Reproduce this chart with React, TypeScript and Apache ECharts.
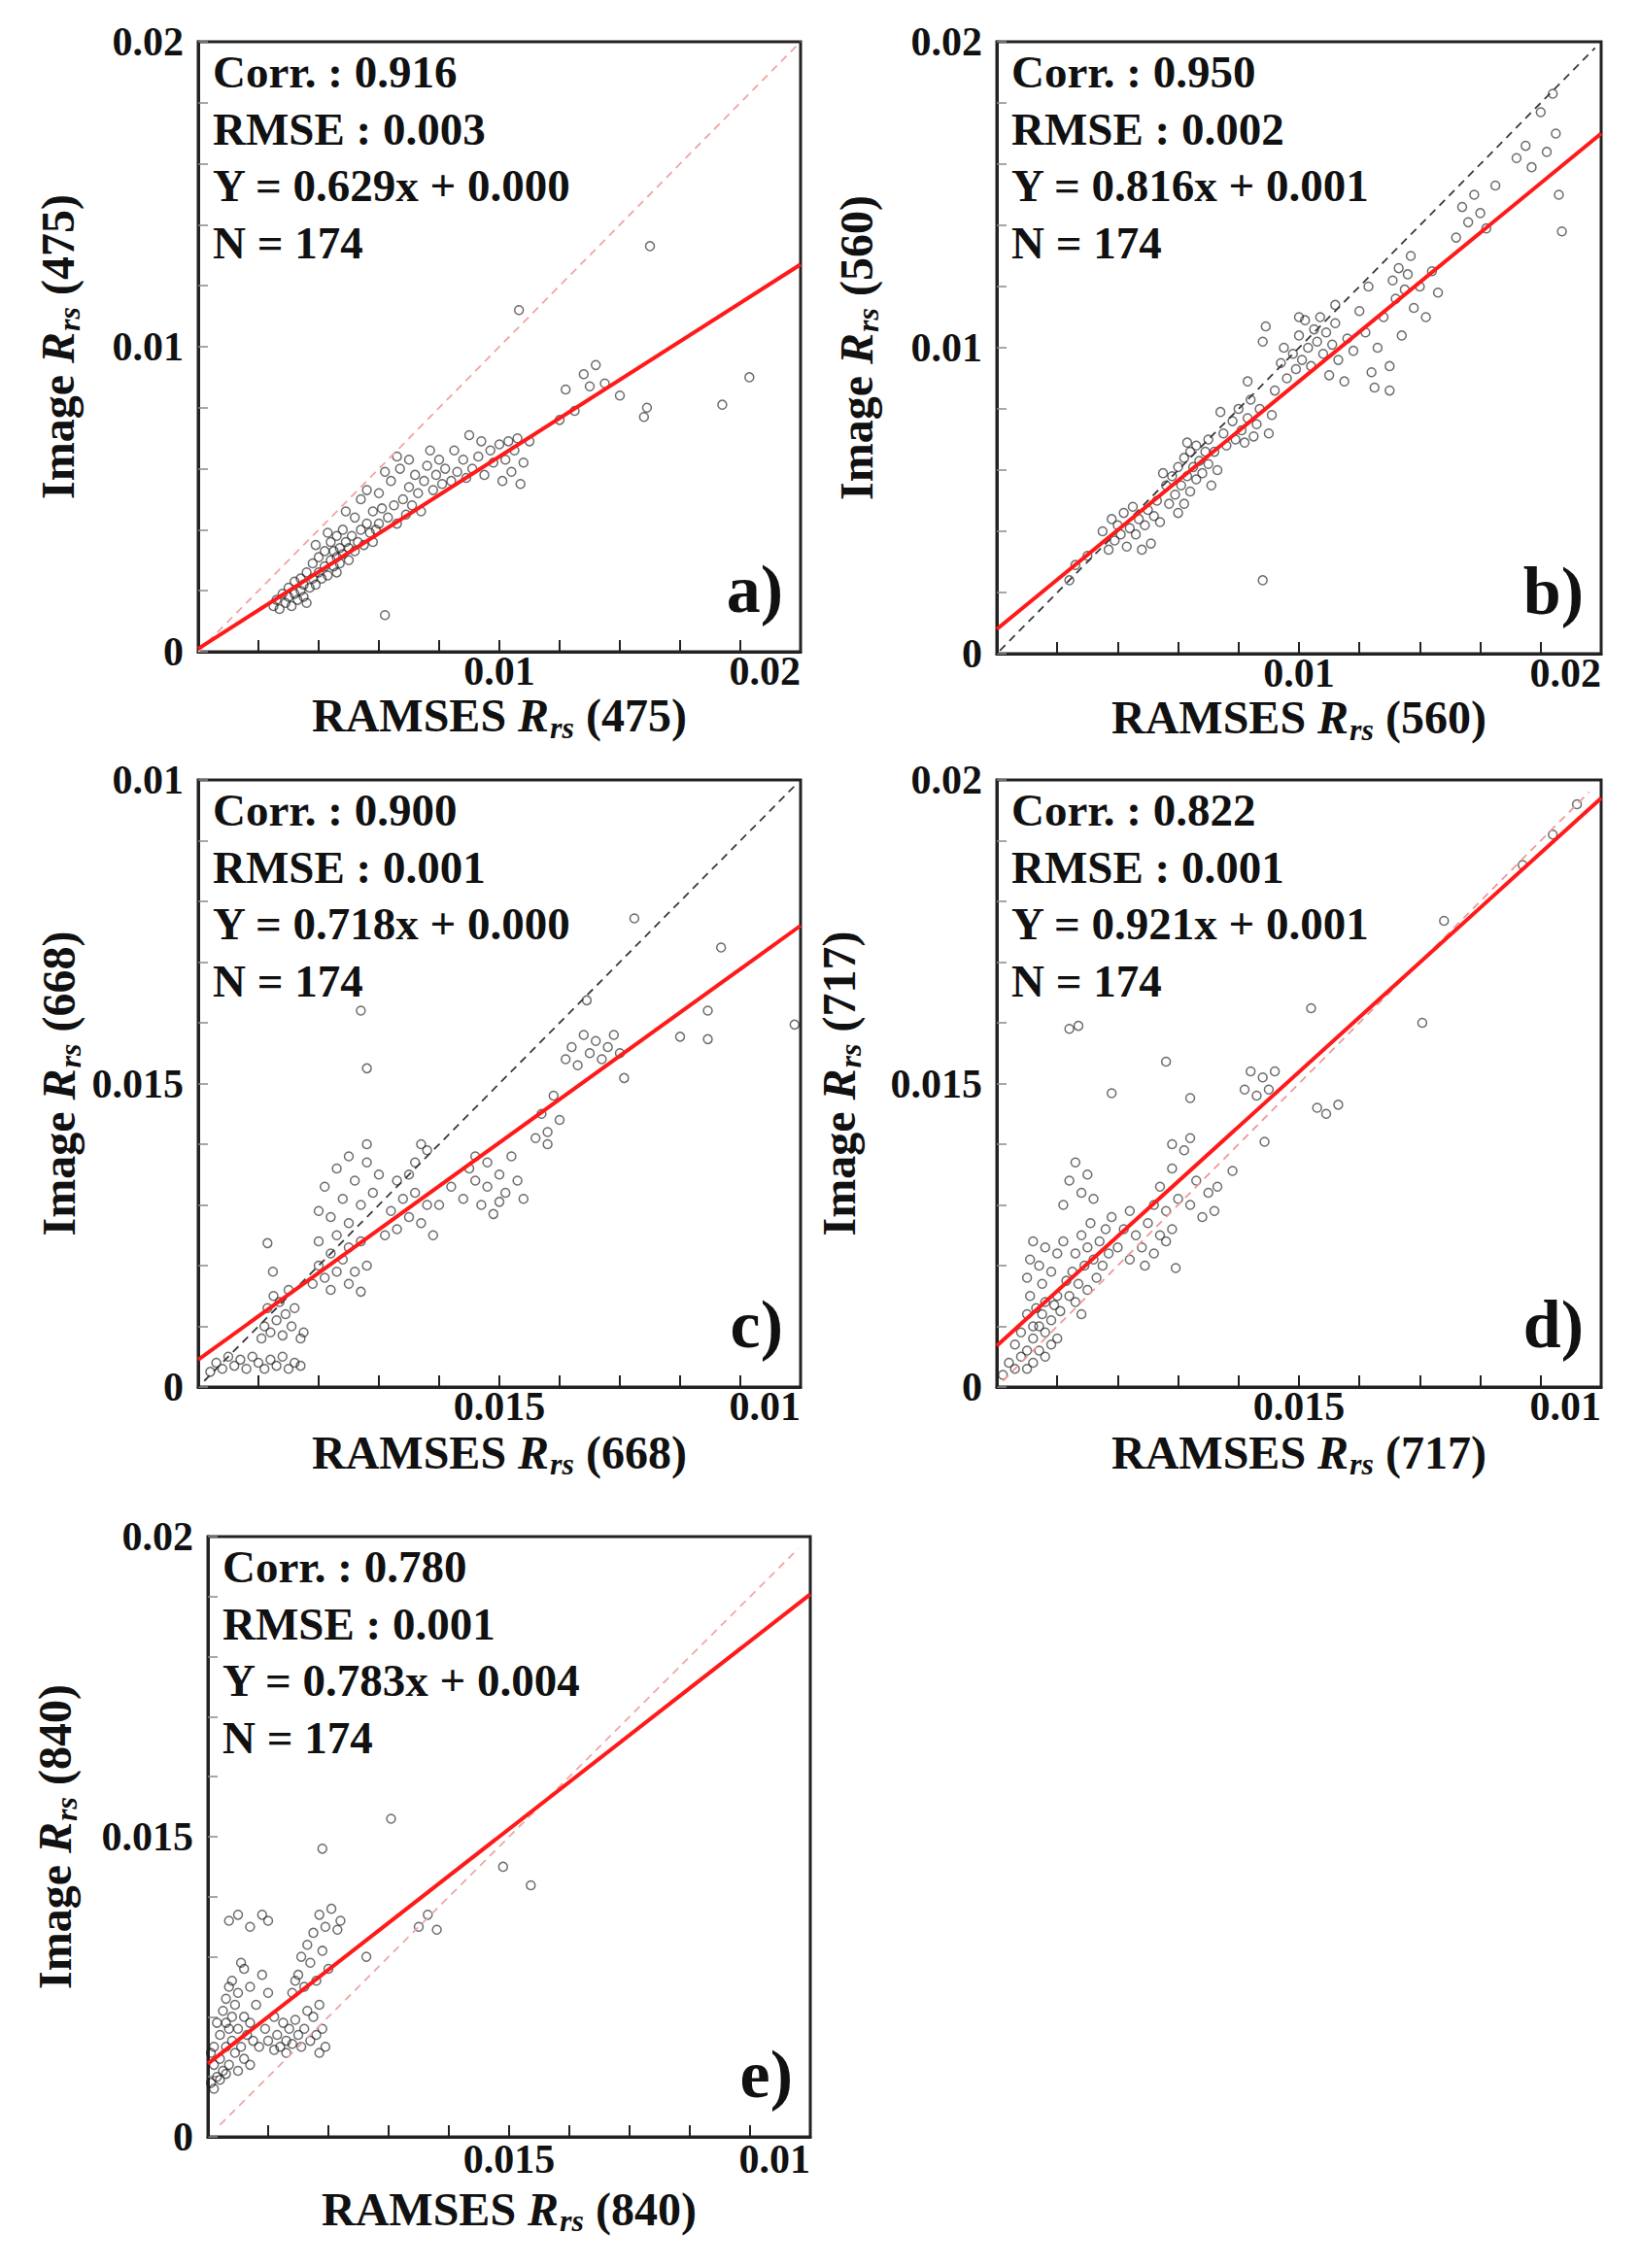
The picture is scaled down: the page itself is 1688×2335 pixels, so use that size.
import React, { useEffect, useRef } from "react";
import * as echarts from "echarts";

const FONT = '"Liberation Serif", "Times New Roman", serif';

// ---------- data ----------
const bands = ["475", "560", "668", "717", "840"];
const panelLetters = ["a)", "b)", "c)", "d)", "e)"];
const corrValues = ["0.916", "0.950", "0.900", "0.822", "0.780"];
const rmseValues = ["0.003", "0.002", "0.001", "0.001", "0.001"];
const fitEquations = [
  "Y = 0.629x + 0.000",
  "Y = 0.816x + 0.001",
  "Y = 0.718x + 0.000",
  "Y = 0.921x + 0.001",
  "Y = 0.783x + 0.004",
];
const sampleCounts = ["174", "174", "174", "174", "174"];

const axisMax = [0.02, 0.02, 0.01, 0.01, 0.01];
const xTickLabels = [
  ["", "0.01", "0.02"],
  ["", "0.01", "0.02"],
  ["", "0.015", "0.01"],
  ["", "0.015", "0.01"],
  ["", "0.015", "0.01"],
];
const yTickLabels = [
  ["0", "0.01", "0.02"],
  ["0", "0.01", "0.02"],
  ["0", "0.015", "0.01"],
  ["0", "0.015", "0.02"],
  ["0", "0.015", "0.02"],
];

// regression line end points
const fitLines = [
  [[0, 0.0001], [0.02, 0.0127]],
  [[0, 0.0008], [0.02, 0.017]],
  [[0, 0.00045], [0.01, 0.0076]],
  [[0, 0.00068], [0.01, 0.0097]],
  [[0, 0.00122], [0.01, 0.00904]],
];
// 1:1 reference lines
const oneToOneLines = [
  [[0, 0], [0.02, 0.02]],
  [[0.0001, 0.0001], [0.0198, 0.0198]],
  [[0.0001, 0.0001], [0.0099, 0.0099]],
  [[0.0001, 0.0001], [0.0098, 0.0098]],
  [[0.0002, 0.0002], [0.0098, 0.0098]],
];
const oneToOneColors = ["#f0a4a4", "#3a3a3a", "#3a3a3a", "#ec9a9a", "#eda8a8"];

// scatter points, in units of 1e-3 sr^-1 (RAMSES, Image)
const scatterA = [
  [2.5,1.5],[2.6,1.7],[2.7,1.4],[2.8,1.9],[2.9,1.6],[3.0,1.8],[3.0,2.1],[3.1,1.5],[3.2,1.9],[3.2,2.3],
  [3.3,1.7],[3.4,2.0],[3.4,2.4],[3.5,1.8],[3.5,2.2],[3.6,2.6],[3.6,1.6],[3.7,2.1],[3.8,2.4],[3.8,2.9],
  [3.9,2.2],[4.0,2.6],[4.0,3.1],[4.1,2.4],[4.2,2.8],[4.2,3.3],[4.3,2.5],[4.4,3.0],[4.4,3.6],[4.5,2.8],
  [4.5,3.3],[4.6,3.1],[4.6,3.8],[4.7,2.9],[4.7,3.4],[4.8,3.2],[4.8,4.0],[4.9,3.6],[5.0,3.0],[5.0,3.4],
  [5.1,3.8],[5.2,3.3],[5.2,4.4],[5.3,3.6],[5.4,4.0],[5.4,5.0],[5.5,3.5],[5.6,4.2],[5.7,3.9],[5.8,4.6],
  [5.8,3.6],[6.0,4.2],[6.0,5.2],[6.1,4.7],[6.2,1.2],[6.3,4.4],[6.4,5.6],[6.5,4.8],[6.6,4.2],[6.7,6.0],
  [6.8,5.0],[6.9,4.5],[7.0,5.4],[7.0,6.3],[7.1,4.8],[7.2,5.8],[7.3,5.2],[7.4,4.6],[7.5,5.6],[7.6,6.1],
  [7.8,5.3],[7.9,5.8],[8.0,6.3],[8.1,5.5],[8.2,6.0],[8.4,5.6],[8.5,6.6],[8.6,5.9],[8.8,6.3],[8.9,5.7],
  [9.0,7.1],[9.1,6.0],[9.3,6.4],[9.4,6.9],[9.5,5.8],[9.7,6.6],[9.8,6.2],[10.0,6.8],[10.1,5.6],[10.2,6.3],
  [10.3,6.9],[10.4,5.9],[10.5,6.6],[10.6,7.0],[10.7,5.5],[10.8,6.2],[10.65,11.2],[11.0,6.9],[12.0,7.6],[12.2,8.6],
  [12.5,7.9],[12.8,9.1],[13.0,8.7],[13.2,9.4],[13.5,8.8],[14.0,8.4],[14.8,7.7],[14.9,8.0],[15.0,13.3],[17.4,8.1],
  [18.3,9.0],[4.3,3.9],[4.9,4.6],[5.6,5.3],[6.2,5.9],[6.6,6.4],[3.9,3.5],[4.6,2.6],[5.9,4.0],[7.7,6.6],
];
const scatterB = [
  [2.4,2.4],[2.6,2.9],[3.0,3.2],[3.5,4.0],[3.7,3.4],[3.8,4.4],[3.9,3.7],[4.0,4.2],[4.1,3.9],[4.2,4.6],
  [4.3,3.5],[4.4,4.1],[4.5,4.8],[4.6,3.9],[4.7,4.4],[4.8,3.4],[4.9,4.2],[5.0,4.7],[5.1,3.6],[5.2,4.5],
  [5.3,5.0],[5.4,4.3],[5.6,5.5],[5.7,4.9],[5.8,5.8],[5.9,5.2],[6.0,4.6],[6.0,6.1],[6.1,5.5],[6.2,6.4],
  [6.2,4.9],[6.3,5.8],[6.4,6.6],[6.4,5.3],[6.5,6.1],[6.6,5.7],[6.6,6.8],[6.7,6.3],[6.8,5.9],[6.9,6.6],
  [7.0,6.2],[7.0,7.0],[7.1,5.5],[7.2,6.6],[7.3,6.0],[7.5,7.2],[7.6,6.8],[7.8,7.6],[7.9,7.0],[8.0,8.0],
  [8.1,7.3],[8.2,6.9],[8.3,7.7],[8.4,8.3],[8.5,7.1],[8.6,7.5],[8.7,8.0],[8.8,10.2],[8.8,2.4],[8.9,10.7],
  [9.0,7.2],[9.1,7.8],[9.2,8.6],[9.4,9.5],[9.6,9.0],[9.8,9.8],[9.9,9.3],[10.0,10.4],[10.1,9.6],[10.2,10.9],
  [10.3,10.0],[10.4,9.4],[10.5,10.6],[10.6,10.2],[10.7,11.0],[10.8,9.8],[10.9,10.5],[11.0,9.1],[11.1,10.1],[11.2,10.8],
  [11.3,9.6],[11.5,8.9],[11.6,10.3],[11.8,9.9],[12.0,11.2],[12.2,10.5],[12.4,9.2],[12.5,8.7],[12.6,10.0],[12.8,11.0],
  [13.0,9.4],[13.0,8.6],[13.1,12.2],[13.2,11.6],[13.3,12.6],[13.4,10.4],[13.5,11.9],[13.6,12.4],[13.7,13.0],[13.8,11.3],
  [14.0,12.0],[14.2,11.0],[14.4,12.5],[14.6,11.8],[15.2,13.6],[15.4,14.6],[15.6,14.1],[15.8,15.0],[16.0,14.4],[16.2,13.9],
  [16.5,15.3],[17.2,16.2],[17.5,16.6],[17.7,15.9],[18.0,17.7],[18.2,16.4],[18.5,17.0],[18.6,15.0],[18.7,13.8],[18.4,18.3],
  [5.5,5.9],[6.3,6.9],[7.4,7.9],[8.3,8.9],[9.5,10.0],[10.0,11.0],[11.2,11.4],[12.3,12.0],
];
const scatterC = [
  [0.2,0.25],[0.3,0.4],[0.4,0.3],[0.5,0.5],[0.6,0.35],[0.7,0.45],[0.8,0.3],[0.9,0.5],[1.0,0.4],[1.1,0.3],
  [1.2,0.45],[1.3,0.35],[1.4,0.5],[1.5,0.3],[1.6,0.4],[1.7,0.35],
  [1.05,0.8],[1.1,1.0],[1.15,1.3],[1.2,0.9],[1.25,1.5],[1.3,1.1],[1.35,1.4],[1.4,0.85],[1.45,1.2],[1.5,1.6],
  [1.55,1.0],[1.6,1.3],[1.7,0.8],[1.75,0.9],[1.15,2.37],[1.24,1.9],
  [1.9,1.7],[2.0,2.0],[2.0,2.4],[2.1,1.8],[2.2,2.2],[2.2,1.6],[2.3,2.5],[2.3,1.9],[2.4,2.1],[2.5,1.7],
  [2.5,2.3],[2.6,1.9],[2.7,1.57],[2.7,2.4],[2.8,2.0],
  [2.0,2.9],[2.1,3.3],[2.2,2.8],[2.3,3.6],[2.4,3.1],[2.5,3.8],[2.5,2.7],[2.6,3.4],[2.7,3.0],[2.8,3.7],
  [2.8,4.0],[2.9,3.2],[3.0,3.5],[2.8,5.25],[2.7,6.2],
  [3.1,2.5],[3.2,2.9],[3.3,2.6],[3.4,3.1],[3.5,2.8],[3.6,3.2],[3.7,2.7],[3.8,3.0],[3.9,2.5],[3.3,3.4],
  [3.5,3.5],[3.7,4.0],[3.8,3.9],[3.6,3.7],
  [4.0,3.0],[4.2,3.3],[4.4,3.1],[4.5,3.6],[4.6,3.4],[4.7,3.0],[4.8,3.7],[4.9,2.85],[5.0,3.5],[5.1,3.2],
  [5.2,3.8],[5.3,3.4],[5.4,3.1],[4.6,3.8],[4.8,3.3],[5.0,3.05],
  [5.6,4.1],[5.7,4.5],[5.8,4.2],[5.9,4.8],[6.0,4.4],[5.8,4.0],
  [6.1,5.4],[6.2,5.6],[6.3,5.3],[6.4,5.8],[6.5,5.5],[6.6,5.7],[6.7,5.4],[6.8,5.6],[6.9,5.8],[7.0,5.5],
  [6.45,6.37],[7.07,5.09],[7.24,7.72],[8.0,5.77],[8.46,5.73],[8.46,6.2],[8.68,7.24],[9.9,5.97],
];
const scatterD = [
  [0.1,0.2],[0.2,0.4],[0.3,0.3],[0.3,0.7],[0.4,0.5],[0.4,0.9],[0.5,0.3],[0.5,0.6],[0.6,0.8],[0.6,0.4],
  [0.7,1.0],[0.7,0.6],[0.8,0.9],[0.8,0.5],[0.9,1.1],[0.9,0.7],[1.0,0.8],[0.5,1.2],[0.6,1.0],[0.75,1.2],
  [0.65,1.3],[0.8,1.4],[0.55,1.5],
  [0.5,1.8],[0.55,2.1],[0.6,2.4],[0.7,2.0],[0.8,2.3],[0.9,1.9],[1.0,2.2],[1.1,2.4],[0.75,1.7],
  [1.2,1.5],[1.25,1.9],[1.3,2.2],[1.35,1.7],[1.4,2.5],[1.45,2.0],[1.5,2.3],[1.5,1.6],[1.55,2.7],[1.6,2.1],
  [1.65,1.8],[1.7,2.4],[1.75,2.0],[1.8,2.6],[1.85,2.2],[1.9,2.8],[1.3,1.4],[1.4,1.2],
  [1.1,3.0],[1.2,3.4],[1.3,3.7],[1.4,3.2],[1.5,3.5],[1.6,3.1],
  [1.2,5.9],[1.35,5.95],[1.9,4.84],[2.8,5.36],[3.2,4.76],
  [2.0,2.3],[2.1,2.6],[2.2,2.1],[2.3,2.5],[2.4,2.3],[2.5,2.7],[2.6,2.2],[2.7,2.5],[2.8,2.4],[2.9,2.6],[2.96,1.96],
  [2.6,3.0],[2.7,3.3],[2.8,2.9],[2.9,3.6],[3.0,3.1],[3.1,3.9],[3.2,3.0],[3.3,3.4],[3.4,2.8],[3.5,3.2],
  [3.6,2.9],[3.65,3.3],[3.2,4.1],[2.9,4.0],
  [3.9,3.56],[4.1,4.9],[4.2,5.2],[4.3,4.8],[4.4,5.1],[4.5,4.9],[4.6,5.2],[4.43,4.04],
  [5.2,6.24],[5.3,4.6],[5.45,4.5],[5.65,4.65],[7.04,6.0],[7.4,7.68],[8.7,8.6],[9.2,9.1],[9.6,9.6],
  [1.0,1.5],[1.15,1.75],[1.05,1.25],[0.95,1.35],[2.2,2.9],[2.45,2.0],
];
const scatterE = [
  [0.05,0.9],[0.1,1.2],[0.1,1.5],[0.15,1.0],[0.2,1.3],[0.2,1.7],[0.25,1.1],[0.3,1.5],[0.3,1.9],[0.35,1.2],
  [0.4,1.6],[0.4,2.0],[0.45,1.4],[0.5,1.8],[0.5,1.1],[0.55,1.5],[0.6,2.0],[0.6,1.3],[0.65,1.7],[0.7,1.9],
  [0.7,1.2],[0.75,1.6],[0.15,1.9],[0.25,2.1],[0.05,1.4],[0.35,1.8],[0.45,2.2],[0.1,0.8],[0.2,0.95],[0.3,1.05],
  [0.3,2.3],[0.4,2.6],[0.5,2.4],[0.6,2.8],[0.7,2.5],[0.8,2.2],[0.9,2.7],[1.0,2.4],[0.55,2.9],[0.35,2.5],
  [0.35,3.6],[0.5,3.7],[0.7,3.5],[0.9,3.7],[1.0,3.6],
  [0.85,1.5],[0.95,1.8],[1.0,1.6],[1.1,2.0],[1.15,1.7],[1.2,1.5],[1.25,1.9],[1.3,1.6],[1.35,1.8],[1.4,1.55],
  [1.45,1.95],[1.5,1.7],[1.55,1.5],[1.6,1.8],[1.7,1.6],[1.75,2.0],[1.8,1.7],[1.85,1.4],[1.9,1.8],[1.3,1.4],
  [1.1,1.45],[1.65,2.1],[1.95,1.5],[1.85,2.2],
  [1.4,2.4],[1.5,2.7],[1.6,2.5],[1.7,2.9],[1.8,2.6],[1.9,3.1],[2.0,2.8],[1.55,3.0],[1.45,2.6],[1.65,3.2],
  [1.75,3.4],[1.85,3.7],[1.95,3.5],[2.05,3.8],[2.15,3.45],[2.2,3.6],
  [1.9,4.8],[3.04,5.3],[2.63,3.0],[3.5,3.5],[3.65,3.7],[3.8,3.45],[4.9,4.5],[5.36,4.19],
];
const scatterSets = [scatterA, scatterB, scatterC, scatterD, scatterE];
const MILLI = 1e-3;

// ---------- layout (pixels) ----------
const grids = [
  { left: 204, top: 43, width: 620, height: 628 },
  { left: 1026, top: 43, width: 622, height: 630 },
  { left: 204, top: 803, width: 620, height: 625 },
  { left: 1026, top: 803, width: 622, height: 625 },
  { left: 214, top: 1582, width: 620, height: 618 },
];
const xNameGaps = [32, 32, 39, 39, 46];
const yNameGaps = [117, 117, 116, 135, 130];
const xLabelMargins = [-1, -1, -1, -1, 2];

const titleRich = {
  n: { fontFamily: FONT, fontWeight: "bold", fontSize: 48, color: "#111", lineHeight: 56 },
  i: { fontFamily: FONT, fontWeight: "bold", fontStyle: "italic", fontSize: 48, color: "#111", lineHeight: 56 },
  s: {
    fontFamily: FONT, fontWeight: "bold", fontStyle: "italic", fontSize: 32, color: "#111",
    lineHeight: 30, verticalAlign: "bottom", padding: [0, 0, 0, 1],
  },
};

function tickFormatter(labels: string[], max: number) {
  return (v: number) => {
    const k = v / (max / 2);
    const r = Math.round(k);
    return Math.abs(k - r) < 1e-6 ? labels[r] ?? "" : "";
  };
}

function buildOption() {
  const xAxis: any[] = [];
  const yAxis: any[] = [];
  const series: any[] = [];
  const graphic: any[] = [];

  grids.forEach((g, i) => {
    const max = axisMax[i];
    xAxis.push({
      type: "value",
      gridIndex: i,
      min: 0,
      max,
      interval: max / 10,
      name: `{n|RAMSES }{i|R}{s|rs}{n| (${bands[i]})}`,
      nameLocation: "middle",
      nameGap: xNameGaps[i],
      nameTextStyle: { rich: titleRich },
      axisLine: { show: true, lineStyle: { color: "#222", width: 3 } },
      axisTick: { show: true, inside: true, length: 12, lineStyle: { color: "#222", width: 2 } },
      splitLine: { show: false },
      axisLabel: {
        formatter: tickFormatter(xTickLabels[i], max),
        fontFamily: FONT,
        fontWeight: "bold",
        fontSize: 42,
        color: "#111",
        margin: xLabelMargins[i],
        showMinLabel: true,
        showMaxLabel: true,
        alignMaxLabel: "right",
      },
    });
    yAxis.push({
      type: "value",
      gridIndex: i,
      min: 0,
      max,
      interval: max / 10,
      name: `{n|Image }{i|R}{s|rs}{n| (${bands[i]})}`,
      nameLocation: "middle",
      nameRotate: 90,
      nameGap: yNameGaps[i],
      nameTextStyle: { rich: titleRich },
      axisLine: { show: true, lineStyle: { color: "#222", width: 3 } },
      axisTick: { show: true, inside: true, length: 10, lineStyle: { color: "#8a8a8a", width: 1.5 } },
      splitLine: { show: false },
      axisLabel: {
        formatter: tickFormatter(yTickLabels[i], max),
        fontFamily: FONT,
        fontWeight: "bold",
        fontSize: 42,
        color: "#111",
        margin: 15,
        showMinLabel: true,
        showMaxLabel: true,
      },
    });

    series.push({
      type: "scatter",
      xAxisIndex: i,
      yAxisIndex: i,
      symbol: "circle",
      symbolSize: 9,
      silent: true,
      itemStyle: { color: "rgba(255,255,255,0)", borderColor: "rgba(25,25,25,0.8)", borderWidth: 1.5 },
      data: scatterSets[i].map(([x, y]) => [x * MILLI, y * MILLI]),
      z: 2,
    });
    series.push({
      type: "line",
      xAxisIndex: i,
      yAxisIndex: i,
      symbol: "none",
      silent: true,
      lineStyle: { color: oneToOneColors[i], width: 1.8, type: [8, 6] },
      data: oneToOneLines[i],
      z: 3,
    });
    series.push({
      type: "line",
      xAxisIndex: i,
      yAxisIndex: i,
      symbol: "none",
      silent: true,
      lineStyle: { color: "#ff1a1a", width: 4 },
      data: fitLines[i],
      z: 4,
    });

    graphic.push({
      type: "text",
      x: g.left + 15,
      y: g.top + 2,
      silent: true,
      style: {
        text: [
          `Corr. : ${corrValues[i]}`,
          `RMSE : ${rmseValues[i]}`,
          fitEquations[i],
          `N = ${sampleCounts[i]}`,
        ].join("\n"),
        font: `bold 47px ${FONT}`,
        lineHeight: 58.5,
        fill: "#111",
        align: "left",
        verticalAlign: "top",
      },
    });
    graphic.push({
      type: "text",
      x: g.left + g.width - 18,
      y: g.top + g.height - 30,
      silent: true,
      style: {
        text: panelLetters[i],
        font: `bold 70px ${FONT}`,
        fill: "#111",
        align: "right",
        verticalAlign: "bottom",
      },
    });
  });

  return {
    animation: false,
    backgroundColor: "#ffffff",
    grid: grids.map((g) => ({
      ...g,
      show: true,
      borderColor: "#222",
      borderWidth: 3,
      backgroundColor: "#ffffff",
      containLabel: false,
      outerBoundsMode: "none",
    })),
    xAxis,
    yAxis,
    series,
    graphic,
  };
}

export default function App() {
  const ref = useRef<HTMLDivElement>(null);
  useEffect(() => {
    document.body.style.margin = "0";
    if (!ref.current) return;
    const chart = echarts.init(ref.current, undefined, { renderer: "svg" });
    chart.setOption(buildOption() as any);
    return () => chart.dispose();
  }, []);
  return <div ref={ref} style={{ width: 1688, height: 2335, background: "#fff" }} />;
}
